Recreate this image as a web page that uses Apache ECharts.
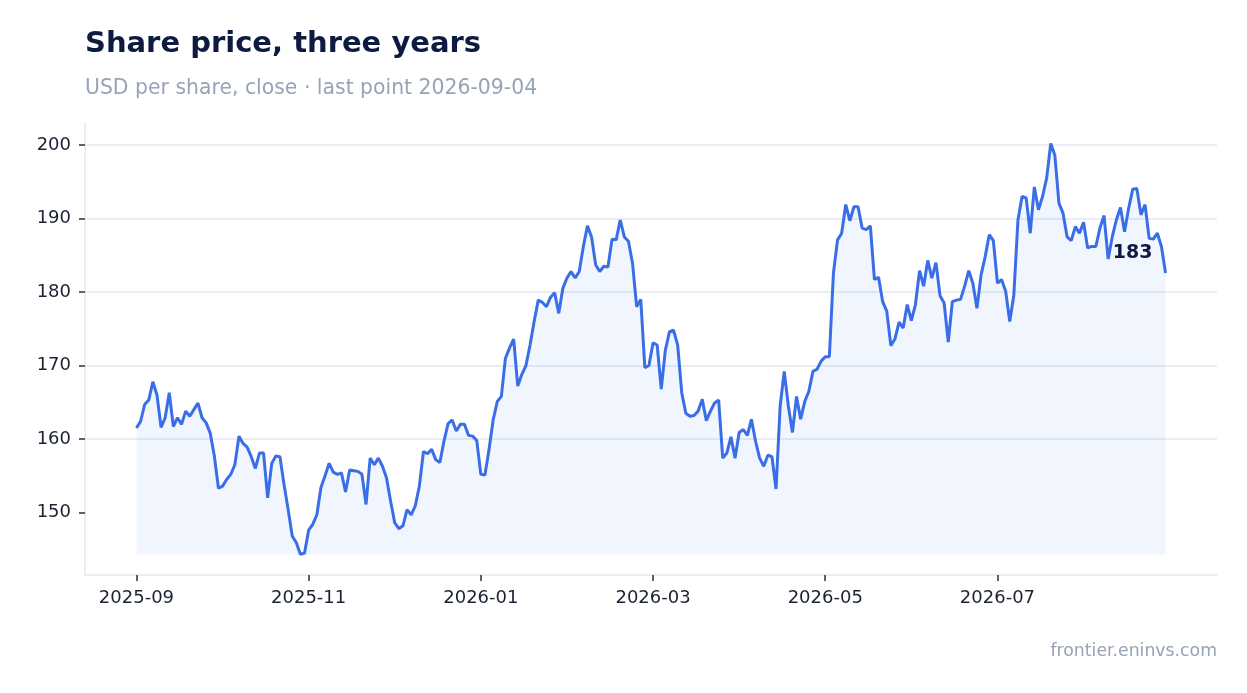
<!DOCTYPE html>
<html>
<head>
<meta charset="utf-8">
<title>Share price, three years</title>
<script src="https://cdn.jsdelivr.net/npm/echarts@6/dist/echarts.min.js"></script>
<style>
    html, body { margin: 0; padding: 0; background: #ffffff; }
    #chart { width: 1247px; height: 693px; }
</style>
</head>
<body>
<div id="chart"></div>
<script>
// closing prices, one per trading day (weekdays)
var firstDay = "2025-09-18";
var close = [
    161.5, 162.4, 164.7, 165.3, 167.8, 166.0, 161.6, 162.9, 166.3, 161.7,
    162.9, 162.0, 163.8, 163.1, 164.0, 164.9, 162.9, 162.2, 160.8, 157.7,
    153.3, 153.6, 154.5, 155.2, 156.5, 160.4, 159.4, 158.9, 157.6, 156.0,
    158.1, 158.1, 152.0, 156.7, 157.7, 157.6, 153.8, 150.4, 146.8, 145.9,
    144.3, 144.5, 147.6, 148.4, 149.7, 153.4, 155.0, 156.7, 155.5, 155.2,
    155.4, 152.8, 155.8, 155.7, 155.6, 155.2, 151.1, 157.4, 156.5, 157.4,
    156.3, 154.7, 151.5, 148.6, 147.8, 148.2, 150.4, 149.7, 150.9, 153.6,
    158.3, 158.0, 158.6, 157.2, 156.8, 159.7, 162.1, 162.6, 161.1, 162.0,
    162.0, 160.5, 160.4, 159.8, 155.2, 155.1, 158.6, 162.6, 165.1, 165.8,
    171.0, 172.4, 173.6, 167.2, 168.8, 170.0, 172.8, 176.0, 178.9, 178.6,
    178.0, 179.3, 179.9, 177.1, 180.5, 181.9, 182.8, 181.9, 182.8, 186.2,
    189.0, 187.5, 183.7, 182.8, 183.5, 183.4, 187.2, 187.1, 189.8, 187.5,
    186.9, 183.9, 178.0, 179.0, 169.7, 170.0, 173.1, 172.8, 166.8, 172.1,
    174.6, 174.8, 172.8, 166.3, 163.5, 163.1, 163.2, 163.8, 165.4, 162.5,
    163.8, 164.9, 165.3, 157.4, 158.1, 160.3, 157.4, 160.9, 161.3, 160.5,
    162.7, 159.7, 157.4, 156.3, 157.8, 157.6, 153.2, 164.5, 169.2, 164.5,
    160.9, 165.8, 162.7, 165.1, 166.5, 169.2, 169.5, 170.6, 171.2, 171.2,
    182.6, 187.1, 188.0, 191.9, 189.7, 191.6, 191.6, 188.7, 188.5, 189.0,
    181.7, 182.0, 178.7, 177.4, 172.7, 173.6, 175.9, 175.1, 178.3, 176.1,
    178.3, 182.9, 180.8, 184.3, 181.9, 184.0, 179.5, 178.5, 173.2, 178.7,
    178.9, 179.0, 180.8, 182.9, 181.2, 177.8, 182.3, 184.8, 187.8, 187.0,
    181.2, 181.7, 180.1, 176.0, 179.6, 189.8, 193.0, 192.8, 188.0, 194.3,
    191.2, 193.0, 195.5, 200.2, 198.6, 192.1, 190.7, 187.5, 187.0, 188.9,
    188.0, 189.5, 186.0, 186.2, 186.2, 188.7, 190.4, 184.5, 187.5, 189.8,
    191.5, 188.2, 191.4, 194.0, 194.1, 190.5, 191.9, 187.3, 187.2, 188.0,
    186.2, 182.6
];
var xTickIndex = [0, 42, 84, 126, 168, 210];
var yTicks = [150, 160, 170, 180, 190, 200];

// weekday dates, one per price
function weekdays(start, n)
{
    var out = [];
    var d = new Date(start + "T00:00:00Z");
    while (out.length < n)
    {
        var wd = d.getUTCDay();
        if (wd != 0 && wd != 6)
            out.push(d.toISOString().slice(0, 10));
        d.setUTCDate(d.getUTCDate() + 1);
    }
    return out;
}
var dates = weekdays(firstDay, close.length);

var points = [];
for (var i = 0; i < close.length; i++)
    points.push([i, close[i]]);

var lo = Math.min.apply(null, close);
var hi = Math.max.apply(null, close);
var yPad = (hi - lo) * 0.05;
var xPad = (close.length - 1) * 0.05;
var last = close.length - 1;

var myChart = echarts.init(document.getElementById('chart'));
var option = {
    backgroundColor: '#ffffff',
    animation: false,
    title: [
        {
            text: 'Share price, three years',
            left: 85,
            top: 30,
            padding: 0,
            textStyle: {
                fontFamily: 'DejaVu Sans',
                fontSize: 29,
                fontWeight: 'bold',
                color: '#0c1b3f'
            }
        },
        {
            text: 'USD per share, close \u00b7 last point ' + dates[last],
            left: 85,
            top: 79,
            padding: 0,
            textStyle: {
                fontFamily: 'DejaVu Sans',
                fontSize: 20.4,
                fontWeight: 'normal',
                color: '#97a3b6'
            }
        },
        {
            text: 'frontier.eninvs.com',
            right: 30,
            top: 643,
            padding: 0,
            textStyle: {
                fontFamily: 'DejaVu Sans',
                fontSize: 17.3,
                fontWeight: 'normal',
                color: '#97a3b6'
            }
        }
    ],
    grid: {
        left: 85,
        right: 30,
        top: 123,
        bottom: 118
    },
    xAxis: {
        type: 'value',
        min: -xPad,
        max: last + xPad,
        axisLine: {
            show: true,
            onZero: false,
            lineStyle: { color: '#e4e7ee', width: 1.5 }
        },
        axisTick: {
            show: true,
            customValues: xTickIndex,
            length: 6,
            lineStyle: { color: '#343b4a', width: 1.6 }
        },
        axisLabel: {
            customValues: xTickIndex,
            margin: 14,
            fontFamily: 'DejaVu Sans',
            fontSize: 18,
            color: '#1b2233',
            formatter: function (v)
            {
                return dates[Math.round(v)].slice(0, 7);
            }
        },
        splitLine: { show: false }
    },
    yAxis: {
        type: 'value',
        min: lo - yPad,
        max: hi + yPad,
        axisLine: {
            show: true,
            onZero: false,
            lineStyle: { color: '#e4e7ee', width: 1.5 }
        },
        axisTick: {
            show: true,
            inside: false,
            customValues: yTicks,
            length: 6,
            lineStyle: { color: '#343b4a', width: 1.6 }
        },
        axisLabel: {
            customValues: yTicks,
            margin: 14,
            fontFamily: 'DejaVu Sans',
            fontSize: 18,
            color: '#1b2233'
        },
        splitLine: {
            show: true,
            showMinLine: false,
            showMaxLine: true,
            lineStyle: { color: '#e3e7f0', width: 1.5 }
        }
    },
    series: [
        {
            name: 'Close',
            type: 'line',
            data: points,
            showSymbol: false,
            lineStyle: { color: '#3a6ee8', width: 3 },
            areaStyle: { color: 'rgba(59,110,232,0.1)', origin: lo },
            markPoint: {
                symbol: 'circle',
                symbolSize: 1,
                itemStyle: { color: 'rgba(0,0,0,0)' },
                label: {
                    show: true,
                    position: 'inside',
                    offset: [-33, -20],
                    fontFamily: 'DejaVu Sans',
                    fontSize: 19,
                    fontWeight: 'bold',
                    color: '#0c1b3f',
                    formatter: function (p)
                    {
                        return Math.round(p.value);
                    }
                },
                data: [
                    { coord: [last, close[last]], value: close[last] }
                ]
            }
        }
    ]
};
myChart.setOption(option);
</script>
</body>
</html>
